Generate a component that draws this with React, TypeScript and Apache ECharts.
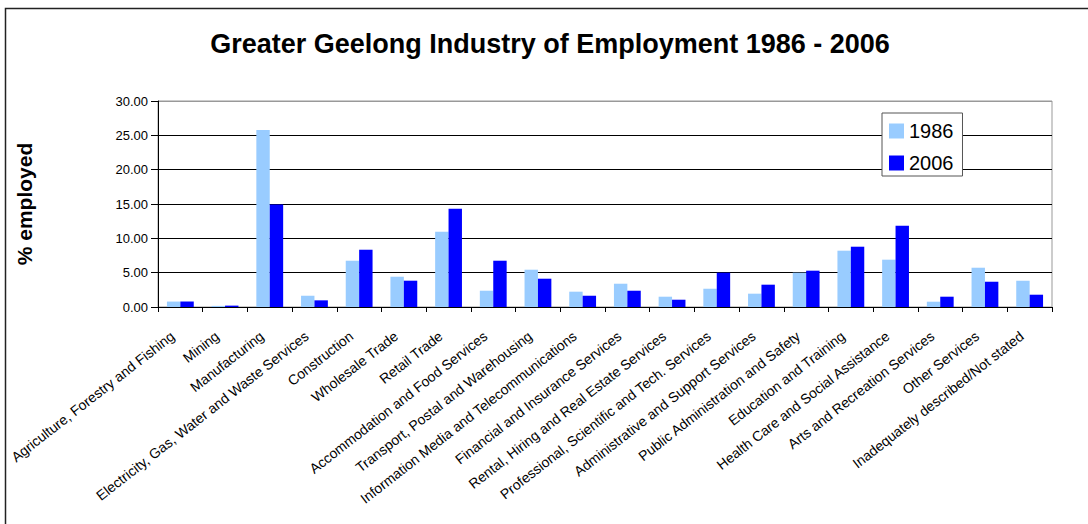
import React, { useEffect, useRef } from "react";
import * as echarts from "echarts";

const categories = [
  "Agriculture, Forestry and Fishing",
  "Mining",
  "Manufacturing",
  "Electricity, Gas, Water and Waste Services",
  "Construction",
  "Wholesale Trade",
  "Retail Trade",
  "Accommodation and Food Services",
  "Transport, Postal and Warehousing",
  "Information Media and Telecommunications",
  "Financial and Insurance Services",
  "Rental, Hiring and Real Estate Services",
  "Professional, Scientific and Tech. Services",
  "Administrative and Support Services",
  "Public Administration and Safety",
  "Education and Training",
  "Health Care and Social Assistance",
  "Arts and Recreation Services",
  "Other Services",
  "Inadequately described/Not stated",
];

const values1986 = [0.79, 0.16, 25.79, 1.64, 6.74, 4.41, 10.96, 2.37, 5.43, 2.23, 3.39, 1.5, 2.66, 1.94, 5.0, 8.2, 6.89, 0.77, 5.72, 3.83];
const values2006 = [0.8, 0.2, 14.94, 0.97, 8.34, 3.83, 14.3, 6.74, 4.12, 1.64, 2.37, 1.06, 5.0, 3.25, 5.29, 8.78, 11.84, 1.5, 3.68, 1.79];

const seriesNames = ["1986", "2006"];
const titleText = "Greater Geelong Industry of Employment 1986 - 2006";
const yAxisName = "% employed";

const FONT = "'Liberation Sans', Arial, sans-serif";

export default function App() {
  const ref = useRef<HTMLDivElement>(null);

  useEffect(() => {
    document.body.style.margin = "0";
    if (!ref.current) return;
    const chart = echarts.init(ref.current, null, { renderer: "svg" });
    chart.setOption({
      animation: false,
      backgroundColor: "#ffffff",
      textStyle: { fontFamily: FONT },
      grid: {
        left: 158,
        top: 101,
        right: 36,
        bottom: 217,
        show: true,
        borderColor: "#999",
        borderWidth: 1,
      },
      graphic: [
        {
          type: "rect",
          shape: { x: 5.5, y: 8.5, width: 1200, height: 600 },
          style: { fill: "none", stroke: "#222", lineWidth: 1.5 },
          silent: true,
          z: -10,
        },
        {
          type: "text",
          x: 550,
          y: 44,
          style: {
            text: titleText,
            font: `bold 27px ${FONT}`,
            fill: "#000",
            textAlign: "center",
            textVerticalAlign: "middle",
          },
        },
        {
          type: "text",
          x: 24,
          y: 204,
          rotation: Math.PI / 2,
          style: {
            text: yAxisName,
            font: `bold 21px ${FONT}`,
            fill: "#000",
            textAlign: "center",
            textVerticalAlign: "middle",
          },
        },
      ],
      legend: {
        data: seriesNames,
        orient: "vertical",
        left: 882,
        top: 113,
        padding: [8, 9, 3, 7],
        itemWidth: 15,
        itemHeight: 15,
        itemGap: 12,
        itemStyle: { borderWidth: 0 },
        icon: "rect",
        backgroundColor: "#fff",
        borderColor: "#555",
        borderWidth: 1,
        textStyle: { fontSize: 20, color: "#000", fontFamily: FONT, lineHeight: 20 },
      },
      xAxis: {
        type: "category",
        data: categories,
        axisLine: { lineStyle: { color: "#000", width: 1 } },
        axisTick: { show: true, interval: 0, length: 5, lineStyle: { color: "#000" } },
        axisLabel: {
          interval: 0,
          rotate: 38,
          margin: 21,
          padding: [0, 10, 0, 0],
          fontSize: 14,
          color: "#000",
          fontFamily: FONT,
        },
      },
      yAxis: {
        type: "value",
        min: 0,
        max: 30,
        interval: 5,
        axisLine: { show: true, lineStyle: { color: "#000", width: 1 } },
        axisTick: { show: true, length: 7, lineStyle: { color: "#000" } },
        axisLabel: {
          fontSize: 13,
          color: "#000",
          margin: 10,
          fontFamily: FONT,
          formatter: (v: number) => v.toFixed(2),
        },
        splitLine: {
          show: true,
          lineStyle: { color: ["#000", "#000", "#000", "#000", "#000", "#000", "#999"], width: 1 },
        },
      },
      series: [
        {
          name: seriesNames[0],
          type: "bar",
          data: values1986,
          barGap: "0%",
          barCategoryGap: "40%",
          itemStyle: { color: "#99CCFF" },
        },
        {
          name: seriesNames[1],
          type: "bar",
          data: values2006,
          barGap: "0%",
          barCategoryGap: "40%",
          itemStyle: { color: "#0000FF" },
        },
      ],
    });
    return () => chart.dispose();
  }, []);

  return <div ref={ref} style={{ width: 1088, height: 524 }} />;
}
